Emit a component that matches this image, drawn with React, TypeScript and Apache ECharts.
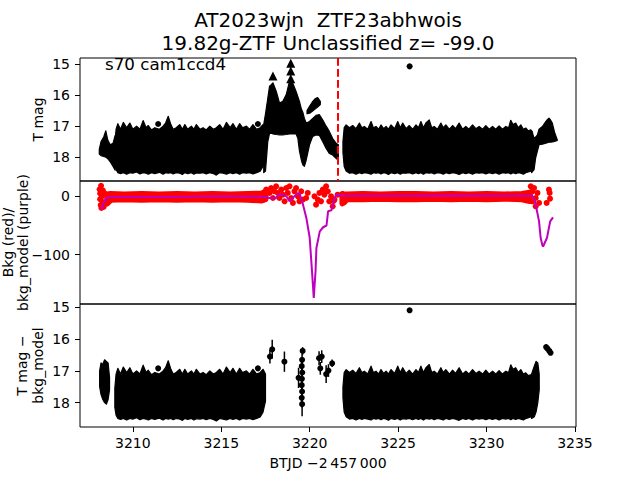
import React, { useEffect, useRef } from 'react';
import * as echarts from 'echarts';

// ---------- axes ----------
const X_MIN = 3207.01;
const X_MAX = 3235.06;
const xTicks = [3210, 3215, 3220, 3225, 3230, 3235];
const magTicks = [15, 16, 17, 18];
const bkgTicks = [0, -100];
const discoveryT = 3221.6;

// ---------- light-curve envelopes (time, upper mag, lower mag) ----------
const p1StartT = [3208.1, 3208.2, 3208.35, 3208.47, 3208.58, 3208.72, 3208.88, 3209.0];
const p1StartTop = [17.75, 17.5, 17.35, 17.15, 17.45, 17.6, 17.55, 17.3];
const p1StartBot = [17.9, 17.95, 17.98, 18.0, 18.05, 18.15, 18.3, 18.42];

const p3StartT = [3208.12, 3208.2, 3208.3, 3208.4, 3208.5, 3208.6, 3208.68];
const p3StartTop = [17.0, 16.75, 16.8, 16.65, 16.7, 16.75, 17.2];
const p3StartBot = [17.5, 17.75, 17.9, 18.0, 18.05, 17.9, 17.6];

const mainT = [3208.98, 3209.05, 3209.15, 3209.3, 3209.46, 3209.65, 3209.83, 3210.0, 3210.21, 3210.4,
  3210.58, 3210.75, 3210.87, 3211.05, 3211.24, 3211.5, 3211.71, 3211.85, 3212.0, 3212.15,
  3212.28, 3212.45, 3212.65, 3212.8, 3212.94, 3213.1, 3213.31, 3213.45, 3213.59, 3213.8,
  3213.97, 3214.15, 3214.35, 3214.55, 3214.72, 3214.91, 3215.1, 3215.29, 3215.5, 3215.66,
  3215.85, 3216.04, 3216.2, 3216.42, 3216.6, 3216.79, 3217.0, 3217.2, 3217.36, 3217.5];
const mainTop = [17.55, 17.1, 16.92, 17.1, 16.88, 17.05, 16.9, 17.1, 17.0, 17.1,
  16.82, 17.05, 16.98, 17.12, 17.05, 17.1, 17.0, 16.9, 16.68, 16.95,
  17.1, 17.05, 16.95, 17.1, 16.95, 17.1, 17.0, 17.1, 16.95, 17.1,
  17.05, 17.12, 17.0, 17.1, 17.05, 16.95, 17.1, 16.88, 17.05, 16.92,
  17.1, 16.92, 17.05, 17.0, 17.1, 16.95, 17.1, 17.05, 16.95, 17.1];
const mainBot = [18.15, 18.4, 18.5, 18.53, 18.5, 18.55, 18.5, 18.52, 18.48, 18.54,
  18.5, 18.52, 18.55, 18.5, 18.53, 18.49, 18.55, 18.5, 18.52, 18.5,
  18.54, 18.5, 18.52, 18.56, 18.5, 18.53, 18.5, 18.55, 18.51, 18.52,
  18.5, 18.54, 18.5, 18.53, 18.58, 18.5, 18.52, 18.55, 18.5, 18.53,
  18.5, 18.55, 18.5, 18.52, 18.5, 18.54, 18.5, 18.45, 18.3, 17.95];

const trT = [3217.4, 3217.5, 3217.63, 3217.73, 3217.83, 3217.92, 3218.11, 3218.29, 3218.48, 3218.67,
  3218.86, 3218.95, 3219.05, 3219.23, 3219.33, 3219.42, 3219.53, 3219.61, 3219.7, 3219.8,
  3219.99, 3220.17, 3220.36, 3220.55, 3220.74, 3220.93, 3221.11, 3221.3, 3221.49, 3221.62];
const trTop = [16.95, 16.6, 16.1, 15.71, 15.66, 15.6, 15.88, 16.25, 16.2, 15.99,
  15.55, 15.5, 15.62, 15.88, 16.05, 16.2, 16.45, 16.55, 16.75, 16.9,
  16.85, 16.75, 16.65, 16.63, 16.8, 17.0, 17.17, 17.4, 17.55, 17.6];
const trBot = [18.5, 18.45, 17.5, 17.23, 17.23, 17.25, 17.27, 17.28, 17.28, 17.27,
  17.25, 17.24, 17.25, 17.25, 17.39, 17.8, 18.1, 18.25, 18.3, 18.1,
  17.6, 17.33, 17.28, 17.3, 17.5, 17.72, 17.88, 17.93, 18.04, 18.1];

const blobT = [3219.85, 3220.0, 3220.15, 3220.3, 3220.45, 3220.6];
const blobTop = [16.5, 16.35, 16.22, 16.12, 16.08, 16.2];
const blobBot = [16.6, 16.58, 16.52, 16.45, 16.38, 16.3];

const rightT = [3221.88, 3221.95, 3222.06, 3222.25, 3222.43, 3222.62, 3222.81, 3222.95, 3223.09, 3223.28,
  3223.47, 3223.6, 3223.75, 3223.9, 3224.03, 3224.18, 3224.32, 3224.45, 3224.6, 3224.8,
  3224.98, 3225.12, 3225.26, 3225.45, 3225.63, 3225.82, 3226.01, 3226.15, 3226.29, 3226.43,
  3226.57, 3226.76, 3226.9, 3227.04, 3227.22, 3227.42, 3227.55, 3227.7, 3227.9, 3228.08,
  3228.25, 3228.45, 3228.65, 3228.83, 3229.0, 3229.21, 3229.4, 3229.58, 3229.78, 3229.96,
  3230.15, 3230.34, 3230.52, 3230.71, 3230.9, 3231.09, 3231.25, 3231.37, 3231.5, 3231.65,
  3231.8, 3231.94, 3232.08, 3232.22, 3232.36, 3232.5, 3232.6];
const rightTop = [17.5, 17.05, 16.96, 17.05, 16.98, 17.08, 16.9, 17.05, 17.01, 17.1,
  16.85, 17.05, 17.01, 17.1, 16.96, 17.08, 17.01, 17.1, 16.96, 17.08,
  16.85, 17.05, 16.9, 17.08, 16.98, 17.1, 16.96, 17.05, 16.85, 17.05,
  16.9, 16.8, 17.05, 17.01, 17.1, 16.9, 17.05, 16.96, 17.1, 16.98,
  17.08, 16.9, 17.1, 17.01, 17.1, 16.96, 17.08, 17.01, 17.1, 16.98,
  17.1, 17.01, 17.1, 16.99, 17.1, 17.01, 17.05, 16.81, 16.95, 16.9,
  17.05, 16.96, 17.1, 17.06, 17.15, 17.12, 17.2];
const rightBot = [17.85, 18.3, 18.45, 18.52, 18.5, 18.55, 18.5, 18.53, 18.5, 18.52,
  18.55, 18.5, 18.52, 18.5, 18.54, 18.5, 18.52, 18.56, 18.5, 18.53,
  18.5, 18.55, 18.51, 18.52, 18.5, 18.54, 18.5, 18.53, 18.5, 18.55,
  18.5, 18.52, 18.5, 18.54, 18.5, 18.52, 18.55, 18.5, 18.53, 18.5,
  18.52, 18.56, 18.5, 18.53, 18.5, 18.55, 18.5, 18.52, 18.5, 18.54,
  18.5, 18.53, 18.5, 18.55, 18.5, 18.52, 18.5, 18.54, 18.5, 18.53,
  18.5, 18.52, 18.55, 18.5, 18.48, 18.45, 18.4];

const p1EndT = [3232.55, 3232.69, 3232.78, 3232.88, 3232.97, 3233.16, 3233.35, 3233.45, 3233.53, 3233.62, 3233.72, 3233.85, 3234.0];
const p1EndTop = [17.15, 17.39, 17.35, 17.28, 17.1, 17.01, 16.85, 16.78, 16.74, 16.8, 16.9, 17.2, 17.44];
const p1EndBot = [18.5, 18.4, 18.02, 17.8, 17.6, 17.58, 17.55, 17.53, 17.52, 17.52, 17.51, 17.49, 17.46];

const p3EndT = [3232.55, 3232.7, 3232.8, 3232.9, 3232.98];
const p3EndTop = [17.1, 16.85, 16.7, 16.75, 17.1];
const p3EndBot = [18.5, 18.45, 18.3, 18.0, 17.6];

// ---------- single points ----------
const p1DotT = [3211.43, 3217.07, 3225.65];
const p1DotMag = [16.93, 16.93, 15.07];
const p1TriT = [3217.92, 3218.93, 3218.93, 3218.93];
const p1TriMag = [15.38, 14.97, 15.22, 15.47];

const p3DotT = [3211.43, 3217.07, 3225.65];
const p3DotMag = [16.92, 16.92, 15.09];
const p3EbT = [3217.75, 3217.88, 3218.57, 3219.37, 3219.6, 3219.57, 3219.55, 3219.58, 3219.56, 3219.55, 3219.57, 3219.55, 3219.57,
  3220.53, 3220.6, 3220.68, 3220.93, 3221.06, 3221.27, 3233.37, 3233.45, 3233.55, 3233.62];
const p3EbMag = [16.55, 16.32, 16.71, 17.22, 16.37, 16.65, 16.85, 17.05, 17.25, 17.45, 17.65, 17.85, 18.05,
  16.6, 16.92, 16.55, 17.1, 16.99, 16.76, 16.25, 16.3, 16.37, 16.43];
const p3EbErr = [0.22, 0.3, 0.32, 0.32, 0.12, 0.2, 0.2, 0.25, 0.25, 0.25, 0.3, 0.3, 0.38,
  0.22, 0.2, 0.2, 0.28, 0.2, 0.12, 0.08, 0.08, 0.08, 0.06];

// ---------- background ----------
const bkgStartBandT = [3208.55, 3208.75, 3209.5, 3210.5, 3211.5, 3212.5, 3213.5, 3214.5, 3215.5, 3216.5, 3217.3, 3217.5];
const bkgStartBandTop = [3, 4, 3, 4, 3, 4, 3, 4, 3, 4, 5, 8];
const bkgStartBandBot = [-12, -6, -5, -6, -5, -6, -5, -6, -5, -6, -7, -5];
const bkgRightBandT = [3221.85, 3221.95, 3222.1, 3223, 3224, 3225, 3226, 3227, 3228, 3229, 3230, 3231, 3232, 3232.45];
const bkgRightBandTop = [4, 3, 3, 4, 3, 4, 4, 3, 4, 3, 4, 3, 4, 6];
const bkgRightBandBot = [-12, -10, -5, -5, -4, -5, -5, -4, -5, -4, -5, -4, -5, -8];

const bkgDotT = [3208.12, 3208.15, 3208.15, 3208.18, 3208.2, 3208.22, 3208.25, 3208.3, 3208.3, 3208.35, 3208.4, 3208.5, 3208.6,
  3217.54, 3217.73, 3217.82, 3217.92, 3218.01, 3218.1, 3218.2, 3218.29, 3218.39, 3218.48, 3218.58, 3218.67, 3218.76,
  3218.86, 3218.95, 3219.05, 3219.14, 3219.23, 3219.33, 3219.42, 3219.52, 3219.61, 3219.8, 3219.89, 3220.27, 3220.36,
  3220.46, 3220.55, 3220.64, 3220.74, 3220.83, 3220.93, 3221.02, 3221.11, 3221.21, 3221.3, 3221.35, 3221.4, 3221.58,
  3232.5, 3232.59, 3232.69, 3232.78, 3232.88, 3232.59, 3232.97, 3232.78, 3233.53, 3233.57, 3233.59, 3233.4];
const bkgDotV = [12, 5, -5, -15, 18, -20, 0, 10, -10, -18, 5, -12, -8,
  11.4, 5.7, 14.2, -2.9, 8.5, 17.1, 5.7, -2.9, 11.4, 2.8, -8.6, 14.2, 5.7,
  17.1, -2.9, -11.4, 8.5, 14.2, 0, -8.6, 8.5, -5.7, -2.9, 5.7, 0, -14.3,
  -5.7, 5.7, -8.6, 11.4, 2.8, 17.1, 8.5, -8.6, 0, -17.1, -8, -5.7, 2.8,
  17.1, 8.5, 14.2, -2.9, 5.7, -8.6, -11.4, -17.1, 11.4, 5.7, -4, -11.4];

const bkgModelT = [3208.2, 3208.35, 3208.5, 3208.7, 3209, 3212, 3215, 3217.5, 3217.7, 3218.11, 3218.21, 3218.49,
  3218.68, 3218.86, 3219.06, 3219.34, 3219.44, 3219.62, 3219.81, 3220.0, 3220.13, 3220.23, 3220.33, 3220.38,
  3220.57, 3220.76, 3220.95, 3221.04, 3221.23, 3221.41, 3221.51, 3222, 3225, 3228, 3232.59, 3232.69, 3232.78,
  3232.97, 3233.06, 3233.16, 3233.2, 3233.42, 3233.6, 3233.76];
const bkgModelV = [-23, -12, -3, -1, -1, -1, 0, -1, -3, -3, 2.8, 2.8,
  0, -8.6, -2, 5.6, 4, -14, -37, -71, -128, -174, -128, -88.5,
  -60, -53, -50, -25.7, -24, -3, 2.7, 1, 1, 1.5, 1, -3.4, -14,
  -43, -71, -84, -86, -71, -43, -36];

// ---------- helpers ----------
type Seg = { t: number[]; top: number[]; bot: number[] };
const seg = (t: number[], top: number[], bot: number[]): Seg => {
  const n = Math.min(t.length, top.length, bot.length);
  return { t: t.slice(0, n), top: top.slice(0, n), bot: bot.slice(0, n) };
};
const zip = (a: number[], b: number[]) => a.slice(0, Math.min(a.length, b.length)).map((v, i) => [v, b[i]]);

const FONT = 'DejaVu Sans';
const minus = (v: number) => String(v).replace('-', '\u2212');

function bandSeries(idx: number, segs: Seg[], color: string, lw: number, z = 2) {
  return {
    type: 'custom',
    xAxisIndex: idx,
    yAxisIndex: idx,
    silent: true,
    clip: true,
    z,
    encode: { x: 0, y: 1 },
    data: segs.map((s, i) => [s.t[0], s.top[0], i]),
    renderItem: (params: any, api: any) => {
      const s = segs[params.dataIndex];
      const pts: number[][] = [];
      for (let k = 0; k < s.t.length; k++) pts.push(api.coord([s.t[k], s.top[k]]));
      for (let k = s.t.length - 1; k >= 0; k--) pts.push(api.coord([s.t[k], s.bot[k]]));
      return {
        type: 'polygon',
        shape: { points: pts },
        style: { fill: color, stroke: color, lineWidth: lw, lineJoin: 'round' },
      };
    },
  };
}

function xAxis(i: number, show: boolean) {
  return {
    type: 'value', gridIndex: i, min: X_MIN, max: X_MAX,
    axisLine: { show: false },
    splitLine: { show: false },
    axisTick: { show, length: 5, customValues: xTicks, lineStyle: { color: '#000', width: 1 } },
    axisLabel: { show, customValues: xTicks, color: '#000', fontSize: 14, fontFamily: FONT, margin: 9, formatter: (v: number) => String(v) },
  };
}
function yAxis(i: number, min: number, max: number, ticks: number[], inverse: boolean) {
  return {
    type: 'value', gridIndex: i, min, max, inverse,
    axisLine: { show: false },
    splitLine: { show: false },
    axisTick: { show: true, length: 5, customValues: ticks, lineStyle: { color: '#000', width: 1 } },
    axisLabel: { show: true, customValues: ticks, color: '#000', fontSize: 14, fontFamily: FONT, margin: 10, formatter: (v: number) => minus(v) },
  };
}

const gridBase = { left: 80, width: 496, height: 123, show: true, borderColor: '#000', borderWidth: 1, backgroundColor: 'transparent' };

const txt = (text: string, x: number, y: number, size: number, align = 'center', rot = 0, lh = Math.round(size * 1.17)) => ({
  type: 'text', x, y, rotation: rot, silent: true,
  style: { text, fill: '#000', font: `${size}px "${FONT}"`, textAlign: align, textVerticalAlign: 'middle', lineHeight: lh },
});

const dotStyle = (color: string) => ({ color, opacity: 1 });

export default function App() {
  const ref = useRef<HTMLDivElement>(null);
  useEffect(() => {
    const chart = echarts.init(ref.current!, null, { renderer: 'svg' });
    const option: any = {
      animation: false,
      backgroundColor: '#fff',
      textStyle: { fontFamily: FONT },
      grid: [
        { ...gridBase, top: 58 },
        { ...gridBase, top: 181 },
        { ...gridBase, top: 304 },
      ],
      xAxis: [xAxis(0, false), xAxis(1, false), xAxis(2, true)],
      yAxis: [
        yAxis(0, 14.8, 18.77, magTicks, true),
        yAxis(1, -184.4, 26.2, bkgTicks, false),
        yAxis(2, 14.89, 18.77, magTicks, true),
      ],
      graphic: [
        txt('AT2023wjn  ZTF23abhwois', 328, 20, 20),
        txt('19.82g-ZTF Unclassified z= -99.0', 328, 43, 20),
        txt('s70 cam1ccd4', 105, 64, 16.7, 'left'),
        txt('T mag', 38, 119.5, 14, 'center', Math.PI / 2),
        txt('Bkg (red)/\nbkg_model (purple)', 15, 242.5, 14, 'center', Math.PI / 2, 15),
        txt('T mag \u2212\nbkg_model', 30, 365.5, 14, 'center', Math.PI / 2, 16),
        txt('BTJD \u22122\u2009457\u2009000', 328, 462.5, 14),
      ],
      series: [
        bandSeries(0, [
          seg(p1StartT, p1StartTop, p1StartBot),
          seg(mainT, mainTop, mainBot),
          seg(trT, trTop, trBot),
          seg(blobT, blobTop, blobBot),
          seg(rightT, rightTop, rightBot),
          seg(p1EndT, p1EndTop, p1EndBot),
        ], '#000', 1.2),
        {
          type: 'scatter', xAxisIndex: 0, yAxisIndex: 0, symbol: 'circle', symbolSize: 6,
          itemStyle: dotStyle('#000'), data: zip(p1DotT, p1DotMag), silent: true, z: 3,
        },
        {
          type: 'scatter', xAxisIndex: 0, yAxisIndex: 0, symbol: 'triangle', symbolSize: 9,
          itemStyle: dotStyle('#000'), data: zip(p1TriT, p1TriMag), silent: true, z: 3,
          markLine: {
            silent: true, symbol: 'none', label: { show: false },
            lineStyle: { color: '#ff0000', width: 2, type: [7.7, 3.3], opacity: 1 },
            data: [{ xAxis: discoveryT }],
          },
        },
        bandSeries(1, [
          seg(bkgStartBandT, bkgStartBandTop, bkgStartBandBot),
          seg(bkgRightBandT, bkgRightBandTop, bkgRightBandBot),
        ], '#ff0000', 6),
        {
          type: 'scatter', xAxisIndex: 1, yAxisIndex: 1, symbol: 'circle', symbolSize: 6,
          itemStyle: dotStyle('#ff0000'), data: zip(bkgDotT, bkgDotV), silent: true, z: 3,
        },
        {
          type: 'line', xAxisIndex: 1, yAxisIndex: 1, showSymbol: false, symbol: 'none',
          lineStyle: { color: '#bf00bf', width: 2, opacity: 1 }, data: zip(bkgModelT, bkgModelV), silent: true, z: 4,
        },
        bandSeries(2, [
          seg(p3StartT, p3StartTop, p3StartBot),
          seg(mainT, mainTop, mainBot),
          seg(rightT, rightTop, rightBot),
          seg(p3EndT, p3EndTop, p3EndBot),
        ], '#000', 1.2),
        {
          type: 'scatter', xAxisIndex: 2, yAxisIndex: 2, symbol: 'circle', symbolSize: 6,
          itemStyle: dotStyle('#000'), data: zip(p3DotT, p3DotMag), silent: true, z: 3,
        },
        {
          type: 'custom', xAxisIndex: 2, yAxisIndex: 2, silent: true, clip: true, z: 3,
          encode: { x: 0, y: 1 },
          data: p3EbT.map((t, i) => [t, p3EbMag[i], p3EbErr[i]]),
          renderItem: (_p: any, api: any) => {
            const t = api.value(0), m = api.value(1), e = api.value(2);
            const c = api.coord([t, m]);
            const a = api.coord([t, m - e]);
            const b = api.coord([t, m + e]);
            return {
              type: 'group',
              children: [
                { type: 'line', shape: { x1: a[0], y1: a[1], x2: b[0], y2: b[1] }, style: { stroke: '#000', lineWidth: 1.5 } },
                { type: 'circle', shape: { cx: c[0], cy: c[1], r: 3 }, style: { fill: '#000' } },
              ],
            };
          },
        },
      ],
    };
    chart.setOption(option);
    return () => chart.dispose();
  }, []);
  return <div ref={ref} style={{ position: 'absolute', left: 0, top: 0, width: 640, height: 480, background: '#fff' }} />;
}
